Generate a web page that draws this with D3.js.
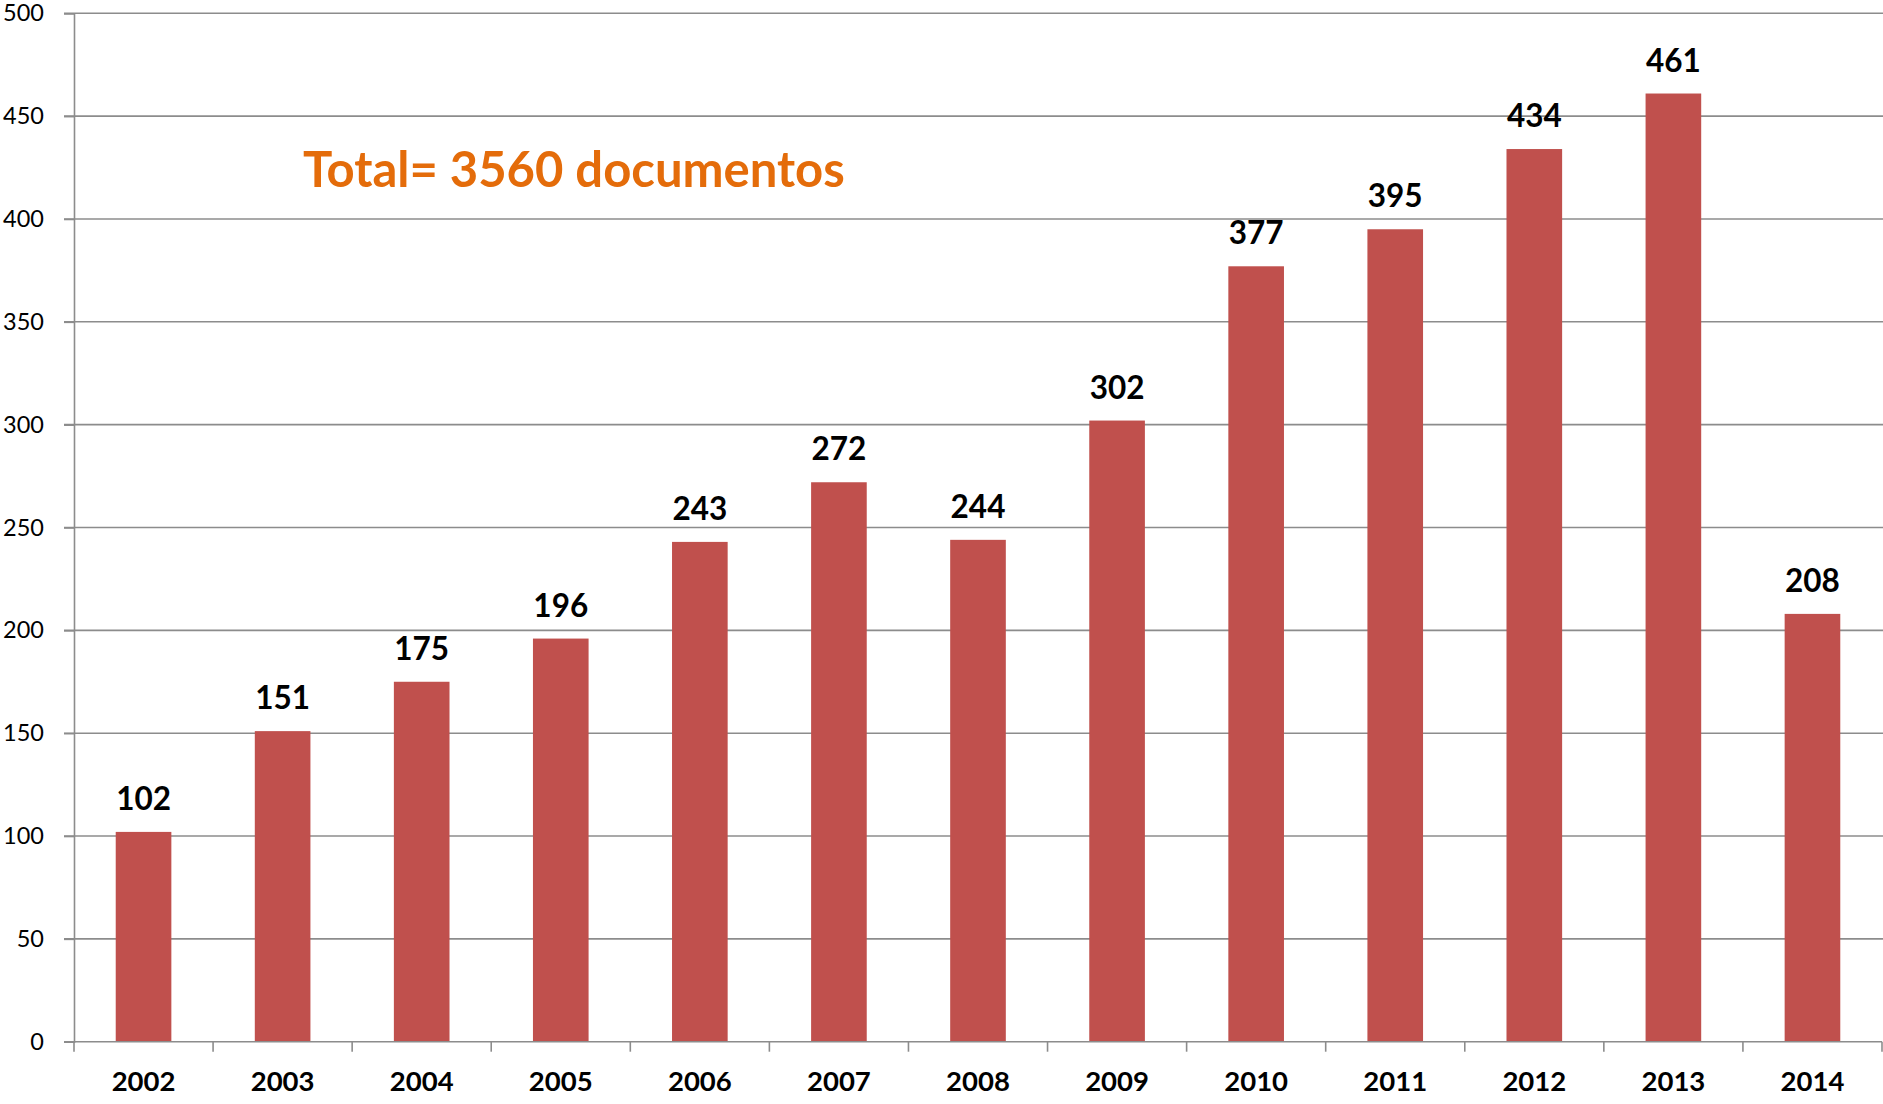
<!DOCTYPE html>
<html><head><meta charset="utf-8">
<script src="https://cdn.jsdelivr.net/npm/d3@7"></script>
<style>
html,body{margin:0;padding:0;background:#fff;}
svg{display:block;}
text{font-family:Lato,"Open Sans",sans-serif;}
</style></head>
<body>
<svg id="chart" width="1883" height="1104"></svg>
<script>
const years = ["2002","2003","2004","2005","2006","2007","2008","2009","2010","2011","2012","2013","2014"];
const counts = [102,151,175,196,243,272,244,302,377,395,434,461,208];
const yTicks = [0,50,100,150,200,250,300,350,400,450,500];
const titleText = "Total= 3560 documentos";

(function () {
const svg = d3.select("#chart");
const pLeft = 74, pRight = 1882, pTop = 13.3, pBottom = 1041.7;

const x = d3.scaleBand().domain(years).range([pLeft, pRight]).padding(0);
const y = d3.scaleLinear().domain([0, 500]).range([pBottom, pTop]);

// gridlines
svg.append("g").selectAll("line").data(yTicks.filter(d => d > 0)).join("line")
  .attr("x1", pLeft - 10).attr("x2", 1883)
  .attr("y1", d => y(d)).attr("y2", d => y(d))
  .attr("stroke", "#8c8c8c").attr("stroke-width", 1.6);

// y axis
const yAxis = svg.append("g").attr("transform", `translate(${pLeft},0)`)
  .call(d3.axisLeft(y).tickValues(yTicks).tickSize(10).tickPadding(20));
yAxis.select(".domain").attr("stroke", "#8c8c8c").attr("stroke-width", 1.6);
yAxis.selectAll(".tick line").attr("stroke", "#8c8c8c").attr("stroke-width", 1.6);
yAxis.selectAll(".tick text").attr("font-size", 23.5).attr("fill", "#000")
  .style("font-family", "Lato, sans-serif");

// bars
const bw = x.bandwidth() * 0.4;
svg.append("g").selectAll("rect").data(years).join("rect")
  .attr("x", (d) => x(d) + x.bandwidth() / 2 - bw / 2)
  .attr("width", bw)
  .attr("y", (d, i) => y(counts[i]))
  .attr("height", (d, i) => pBottom - y(counts[i]))
  .attr("fill", "#C0504D");

// x axis
const xAxis = svg.append("g").attr("transform", `translate(0,${pBottom})`)
  .call(d3.axisBottom(x).tickSize(0).tickPadding(0));
xAxis.select(".domain").remove();
svg.append("line").attr("x1", pLeft - 10).attr("x2", pRight).attr("y1", pBottom).attr("y2", pBottom)
  .attr("stroke", "#8c8c8c").attr("stroke-width", 1.6);
const bounds = years.map(d => x(d)).concat([x(years[years.length - 1]) + x.bandwidth()]);
svg.append("g").selectAll("line").data(bounds).join("line")
  .attr("x1", d => d).attr("x2", d => d).attr("y1", pBottom).attr("y2", pBottom + 10)
  .attr("stroke", "#8c8c8c").attr("stroke-width", 1.6);
xAxis.selectAll(".tick text").attr("font-size", 27.5).attr("font-weight", "bold")
  .attr("fill", "#000").attr("dy", null).attr("y", 49)
  .style("font-family", "Lato, sans-serif");

// value labels
svg.append("g").selectAll("text").data(years).join("text")
  .attr("x", d => x(d) + x.bandwidth() / 2)
  .attr("y", (d, i) => y(counts[i]) - 22)
  .attr("text-anchor", "middle")
  .attr("font-size", 31.5).attr("font-weight", "bold").attr("fill", "#000")
  .text((d, i) => counts[i]);

// title
svg.append("text").attr("x", 303).attr("y", 187)
  .attr("font-size", 49).attr("font-weight", "bold").attr("fill", "#E46C0A")
  .text(titleText);
})();
</script>
</body></html>
